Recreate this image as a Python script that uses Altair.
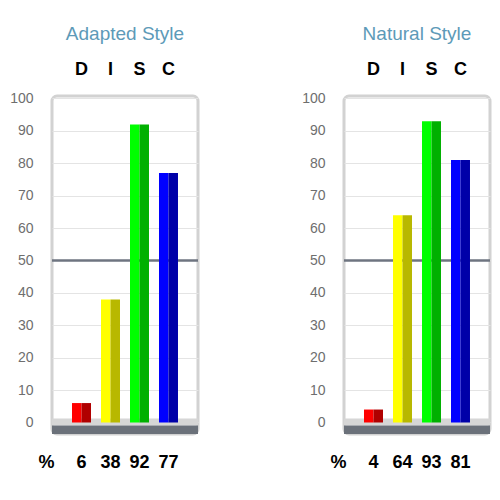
import altair as alt
import pandas as pd

categories = ["D", "I", "S", "C"]
adapted = [6, 38, 92, 77]
natural = [4, 64, 93, 81]
panel_titles = ["Adapted Style", "Natural Style"]

halves = ["light", "dark"]
light_colors = ["#ff0000", "#ffff00", "#00ff00", "#0000ff"]
dark_colors = ["#b00000", "#b8b800", "#00b000", "#0000a8"]

y_ticks = [0, 10, 20, 30, 40, 50, 60, 70, 80, 90, 100]
mid_line = [50]
floor_top, floor_mid, floor_bottom = 1.23, -0.93, -3.55
y_top = 100.77

keys, key_colors = [], []
for c, lc, dc in zip(categories, light_colors, dark_colors):
    keys += [c + "-light", c + "-dark"]
    key_colors += [lc, dc]

yscale = alt.Scale(domain=[floor_bottom, y_top], nice=False, zero=False)
FONT = "Liberation Sans"


def yaxis():
    return alt.Axis(values=y_ticks, labelOverlap=False)


def panel(title, values):
    rows = []
    for c, v in zip(categories, values):
        for h in halves:
            rows.append({"cat": c, "half": h, "key": c + "-" + h, "value": v})
    df = pd.DataFrame(rows)
    label_map = "{" + ",".join(f"'{c}':'{v}'" for c, v in zip(categories, values)) + "}"

    xsc = alt.Scale(domain=categories, paddingInner=0.345, paddingOuter=0.69)

    rule = alt.Chart(pd.DataFrame({"v": mid_line})).mark_rule(
        color="#6e7480", strokeWidth=2.5
    ).encode(y=alt.Y("v:Q", scale=yscale, title=None, axis=yaxis()))

    floor_light = alt.Chart(pd.DataFrame({"a": [floor_top], "b": [floor_mid]})).mark_rect(
        color="#d6d6d6"
    ).encode(y=alt.Y("a:Q", scale=yscale, title=None, axis=yaxis()), y2="b:Q",
             x=alt.value(0), x2=alt.value("width"))

    floor_dark = alt.Chart(pd.DataFrame({"a": [floor_mid], "b": [floor_bottom]})).mark_rect(
        color="#6b717a"
    ).encode(y=alt.Y("a:Q", scale=yscale, title=None, axis=yaxis()), y2="b:Q",
             x=alt.value(0), x2=alt.value("width"))

    bars = alt.Chart(df).mark_bar().encode(
        x=alt.X("cat:N", sort=categories, scale=xsc, title=None,
                axis=alt.Axis(orient="top", labelFontSize=18, labelFontWeight="bold",
                              labelColor="black", labelPadding=21.5,
                              labelBaseline="alphabetic", labelFont=FONT)),
        xOffset=alt.XOffset("half:N", sort=halves, scale=alt.Scale(domain=halves)),
        y=alt.Y("value:Q", scale=yscale, title=None, axis=yaxis()),
        y2=alt.datum(0),
        color=alt.Color("key:N", scale=alt.Scale(domain=keys, range=key_colors), legend=None),
    )

    bottom = alt.Chart(pd.DataFrame({"cat": categories})).mark_text(opacity=0).encode(
        x=alt.X("cat:N", sort=categories, scale=xsc, title="%",
                axis=alt.Axis(orient="bottom", labelFontSize=18, labelFontWeight="bold",
                              labelColor="black", labelPadding=33,
                              labelBaseline="alphabetic", labelFont=FONT,
                              labelExpr=label_map + "[datum.value]",
                              titleFontSize=18, titleFontWeight="bold", titleColor="black",
                              titleFont=FONT, titleX=-6, titleY=33, titleAlign="center",
                              titleBaseline="alphabetic", titleAnchor="start")),
        text=alt.value(""),
    )

    return alt.layer(rule, floor_light, floor_dark, bars, bottom).resolve_axis(
        x="independent"
    ).properties(
        width=146, height=338,
        title=alt.TitleParams(title, frame="group", anchor="middle", fontSize=19,
                              fontWeight="normal", color="#5d9ab8", font=FONT,
                              offset=17),
    )


chart = alt.hconcat(panel(panel_titles[0], adapted), panel(panel_titles[1], natural),
                    spacing=99).properties(
    padding={"left": 8, "top": 23, "right": 0, "bottom": 0}
).configure_view(
    stroke="#d2d2d2", strokeWidth=3, cornerRadius=5
).configure_axisY(
    grid=True, gridColor="#e4e4e4", domain=False, ticks=False, labelPadding=19,
    labelFontSize=14, labelColor="#6e6e6e", labelFont=FONT
).configure_axisX(
    domain=False, ticks=False, grid=False, labelAngle=0
)

chart.save("out.html", embed_options={"renderer": "svg", "actions": False})
